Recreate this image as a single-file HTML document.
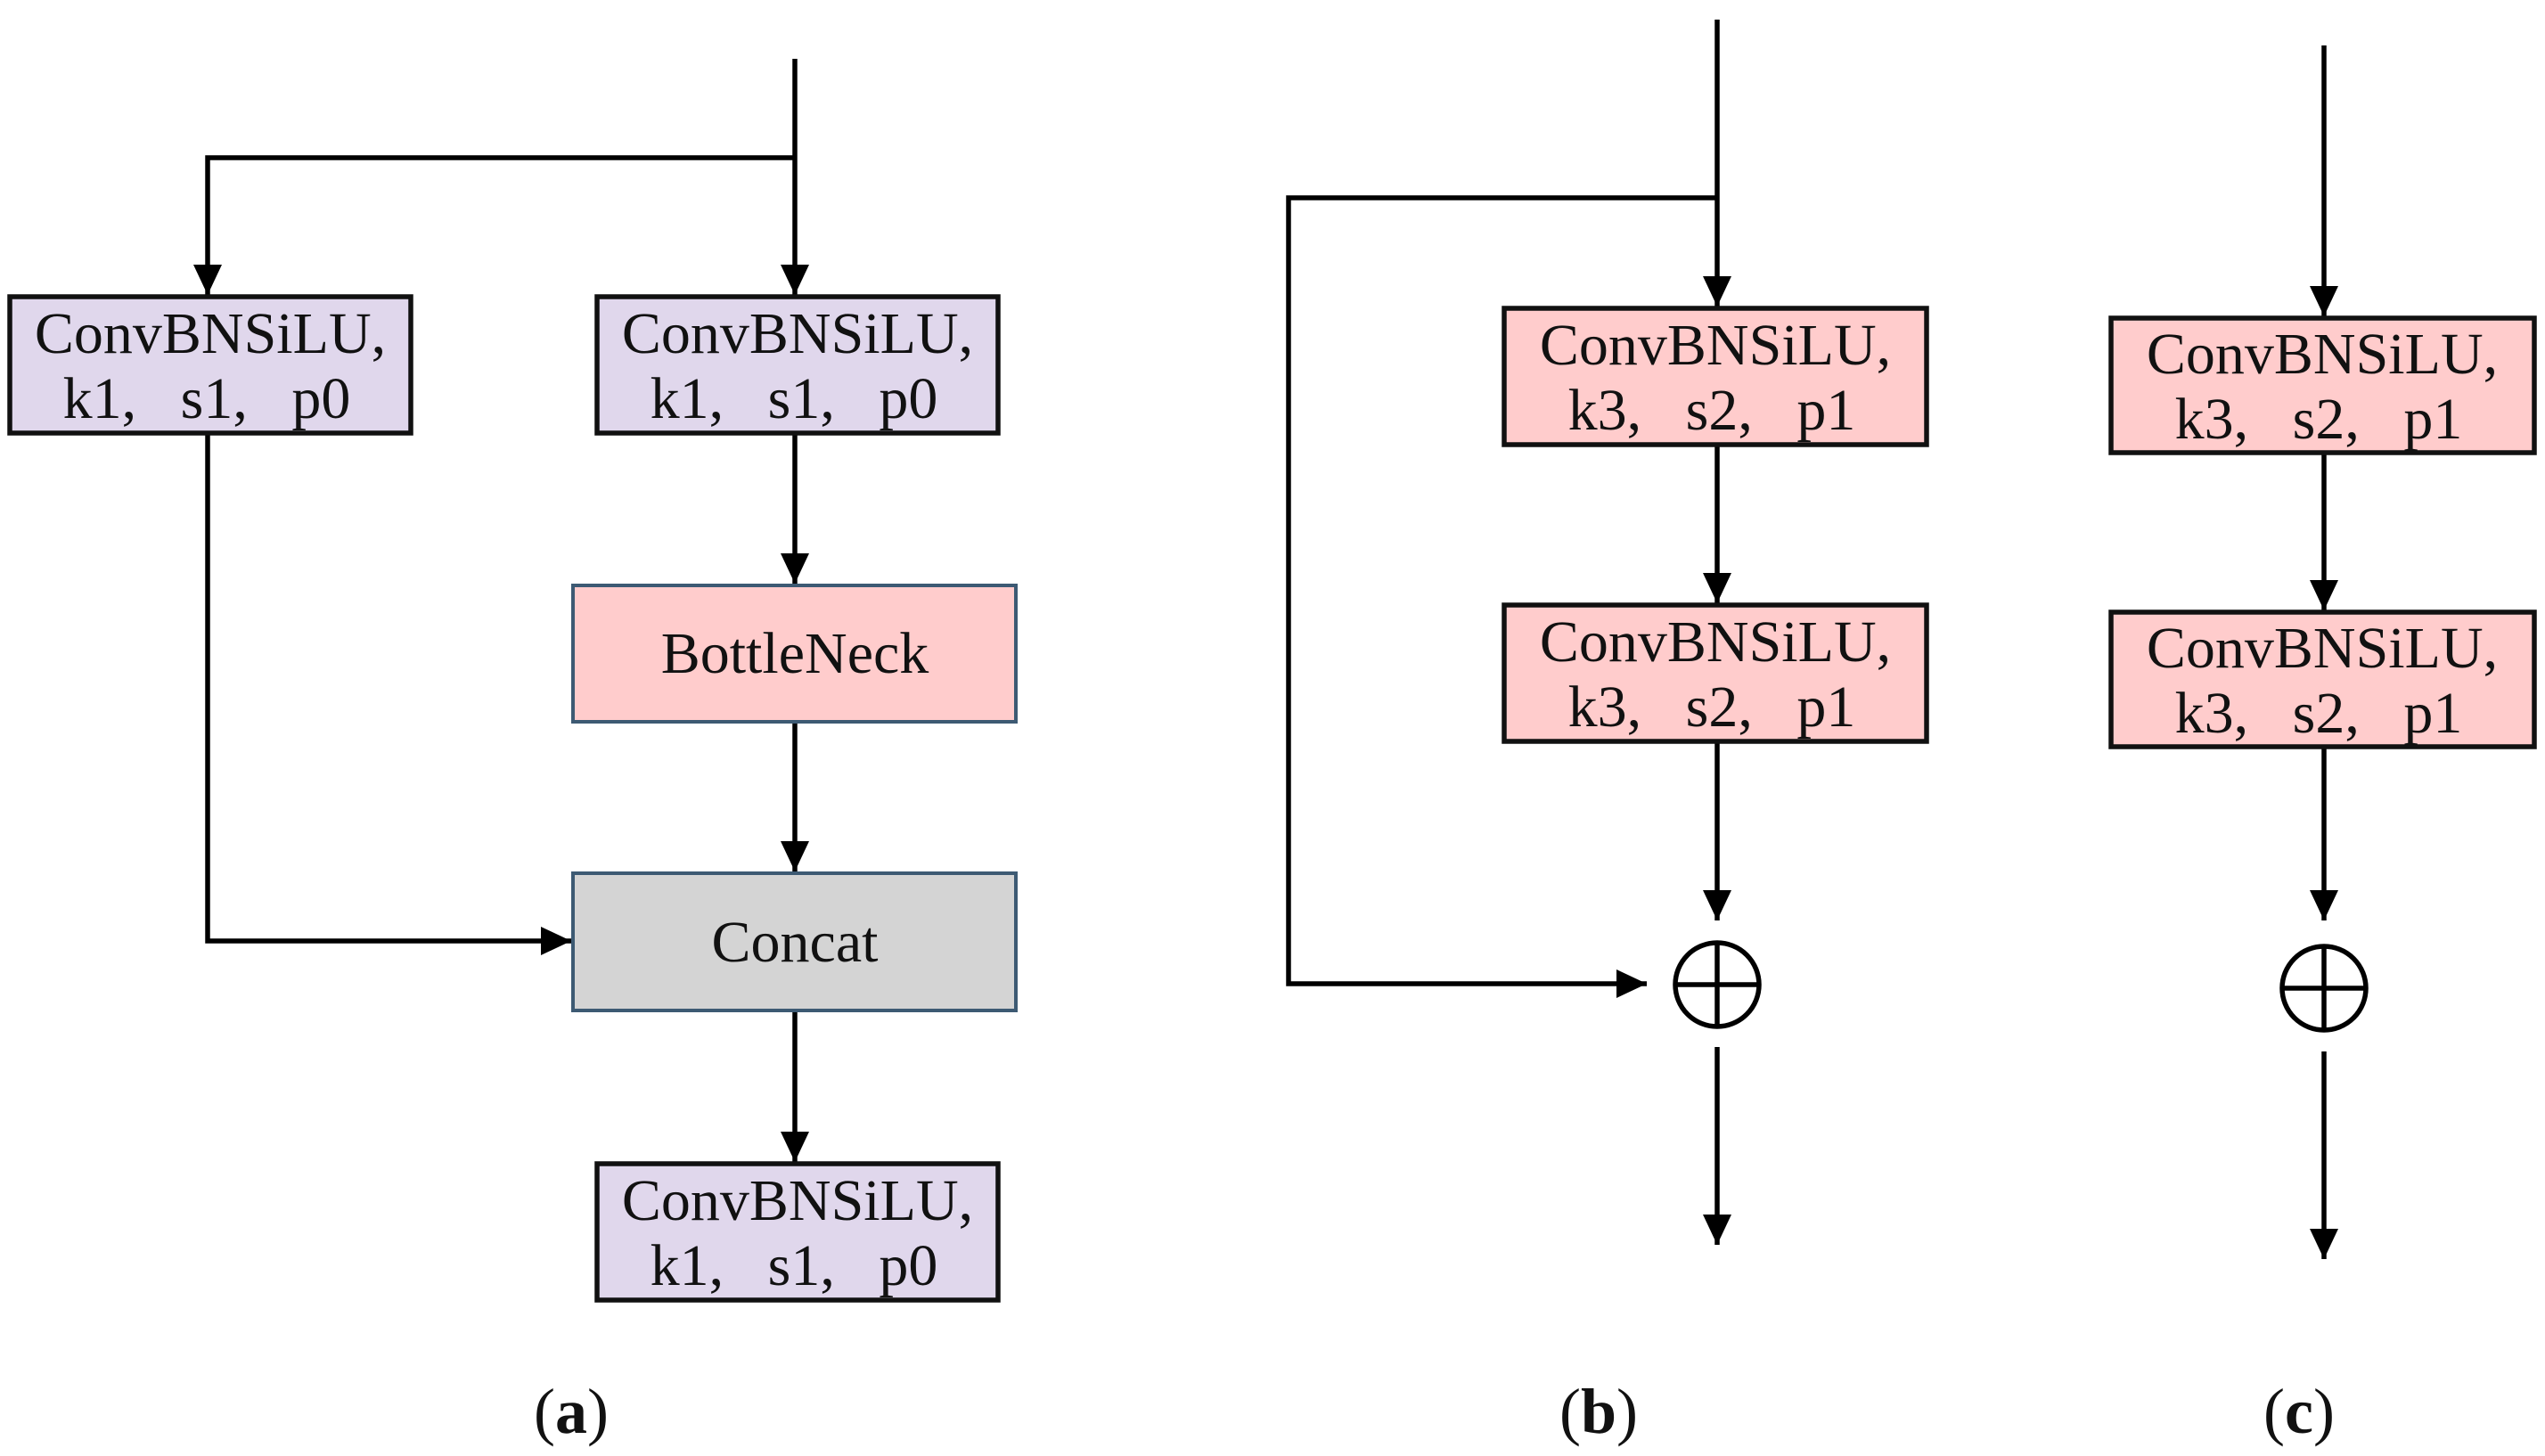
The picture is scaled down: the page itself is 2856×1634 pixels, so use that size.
<!DOCTYPE html>
<html><head><style>
html,body{margin:0;padding:0;background:#fff;}
svg{display:block;}
text{font-family:"Liberation Serif",serif;fill:#111;}
</style></head><body>
<svg width="2856" height="1634" viewBox="0 0 2856 1634" xmlns="http://www.w3.org/2000/svg">
<defs>
<marker id="ah" markerUnits="userSpaceOnUse" markerWidth="40" markerHeight="40" viewBox="0 0 40 40" refX="34" refY="20" orient="auto">
<path d="M0,4 L34,20 L0,36 Z" fill="#000"/>
</marker>
</defs>
<g stroke="#000" stroke-width="5.5" fill="none">
<line x1="892" y1="66" x2="892" y2="331" marker-end="url(#ah)"/>
<polyline points="892,177 233,177 233,331" marker-end="url(#ah)"/>
<line x1="892" y1="486" x2="892" y2="655" marker-end="url(#ah)"/>
<line x1="892" y1="810" x2="892" y2="978" marker-end="url(#ah)"/>
<polyline points="233,486 233,1056 641,1056" marker-end="url(#ah)"/>
<line x1="892" y1="1134" x2="892" y2="1304" marker-end="url(#ah)"/>
<line x1="1927" y1="22" x2="1927" y2="344" marker-end="url(#ah)"/>
<polyline points="1927,222 1446,222 1446,1104 1848,1104" marker-end="url(#ah)"/>
<line x1="1927" y1="499" x2="1927" y2="677" marker-end="url(#ah)"/>
<line x1="1927" y1="832" x2="1927" y2="1033" marker-end="url(#ah)"/>
<line x1="1927" y1="1175" x2="1927" y2="1397" marker-end="url(#ah)"/>
<line x1="2608" y1="51" x2="2608" y2="355" marker-end="url(#ah)"/>
<line x1="2608" y1="508" x2="2608" y2="685" marker-end="url(#ah)"/>
<line x1="2608" y1="838" x2="2608" y2="1033" marker-end="url(#ah)"/>
<line x1="2608" y1="1180" x2="2608" y2="1413" marker-end="url(#ah)"/>
</g>
<g stroke-width="5.5">
<rect x="11" y="333" width="450" height="153" fill="#e0d7ec" stroke="#111"/>
<rect x="670" y="333" width="450" height="153" fill="#e0d7ec" stroke="#111"/>
<rect x="643" y="657" width="497" height="153" fill="#ffcccc" stroke="#3d5a73" stroke-width="4"/>
<rect x="643" y="980" width="497" height="154" fill="#d4d4d4" stroke="#3d5a73" stroke-width="4"/>
<rect x="670" y="1306" width="450" height="153" fill="#e0d7ec" stroke="#111"/>
<rect x="1688" y="346" width="474" height="153" fill="#ffcccc" stroke="#111"/>
<rect x="1688" y="679" width="474" height="153" fill="#ffcccc" stroke="#111"/>
<rect x="2369" y="357" width="475" height="151" fill="#ffcccc" stroke="#111"/>
<rect x="2369" y="687" width="475" height="151" fill="#ffcccc" stroke="#111"/>
</g>
<g stroke="#000" stroke-width="5.5" fill="none">
<circle cx="1927" cy="1105" r="47"/>
<line x1="1880" y1="1105" x2="1974" y2="1105"/><line x1="1927" y1="1058" x2="1927" y2="1152"/>
<circle cx="2608" cy="1109" r="47"/>
<line x1="2561" y1="1109" x2="2655" y2="1109"/><line x1="2608" y1="1062" x2="2608" y2="1156"/>
</g>
<g font-size="66" text-anchor="middle">
<text x="236" y="396">ConvBNSiLU,</text><text x="232" y="469" xml:space="preserve">k1,   s1,   p0</text>
<text x="895" y="396">ConvBNSiLU,</text><text x="891" y="469" xml:space="preserve">k1,   s1,   p0</text>
<text x="892" y="755">BottleNeck</text>
<text x="892" y="1079">Concat</text>
<text x="895" y="1369">ConvBNSiLU,</text><text x="891" y="1442" xml:space="preserve">k1,   s1,   p0</text>
<text x="1925" y="409">ConvBNSiLU,</text><text x="1921" y="482" xml:space="preserve">k3,   s2,   p1</text>
<text x="1925" y="742">ConvBNSiLU,</text><text x="1921" y="815" xml:space="preserve">k3,   s2,   p1</text>
<text x="2606" y="419">ConvBNSiLU,</text><text x="2602" y="492" xml:space="preserve">k3,   s2,   p1</text>
<text x="2606" y="749">ConvBNSiLU,</text><text x="2602" y="822" xml:space="preserve">k3,   s2,   p1</text>
</g>
<g font-size="72" text-anchor="middle">
<text x="641" y="1608">(<tspan font-weight="bold">a</tspan>)</text>
<text x="1794" y="1608">(<tspan font-weight="bold">b</tspan>)</text>
<text x="2580" y="1608">(<tspan font-weight="bold">c</tspan>)</text>
</g>
</svg>
</body></html>
